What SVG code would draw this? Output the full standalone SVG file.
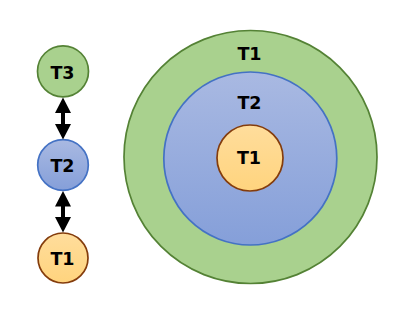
<svg xmlns="http://www.w3.org/2000/svg" width="404" height="315" viewBox="0 0 404 315">
<defs>
<linearGradient id="gBlue" x1="0" y1="0" x2="0" y2="1"><stop offset="0" stop-color="#a9b9e2"/><stop offset="1" stop-color="#859fd9"/></linearGradient>
<linearGradient id="gOrange" x1="0" y1="0" x2="0" y2="1"><stop offset="0" stop-color="#ffdd9c"/><stop offset="1" stop-color="#ffd47e"/></linearGradient>
<style>
.g{fill:#a9d18e;stroke:#548235;stroke-width:1.7}
.b{fill:url(#gBlue);stroke:#4472c4;stroke-width:1.7}
.o{fill:url(#gOrange);stroke:#843c0c;stroke-width:1.7}
.t{font-family:"DejaVu Sans",Verdana,sans-serif;font-weight:bold;font-size:17.5px;fill:#000;text-anchor:middle}
.a{fill:#000;stroke:none}
</style>
</defs>
<g id="big-t1"><circle class="g" cx="250.5" cy="157" r="126.5"/><text class="t" x="249.5" y="60">T1</text></g>
<g id="big-t2"><circle class="b" cx="250.3" cy="158.5" r="86.5"/><text class="t" x="249.5" y="109">T2</text></g>
<g id="big-t1-inner"><circle class="o" cx="250" cy="158" r="33"/><text class="t" x="249" y="163.5">T1</text></g>
<g id="n-t3"><circle class="g" cx="63" cy="71.3" r="25.5"/><text class="t" x="62.5" y="79">T3</text></g>
<g id="n-t2"><circle class="b" cx="63" cy="165" r="25.3"/><text class="t" x="62.5" y="172">T2</text></g>
<g id="n-t1"><circle class="o" cx="63" cy="258" r="25"/><text class="t" x="62.5" y="265">T1</text></g>
<g id="connectors">
<polygon class="a" points="63,97.5 71,113 65,113 65,124 71,124 63,139.5 55,124 61,124 61,113 55,113"/>
<polygon class="a" points="63,191 71,206.5 65,206.5 65,217 71,217 63,232.5 55,217 61,217 61,206.5 55,206.5"/>
</g>
</svg>
